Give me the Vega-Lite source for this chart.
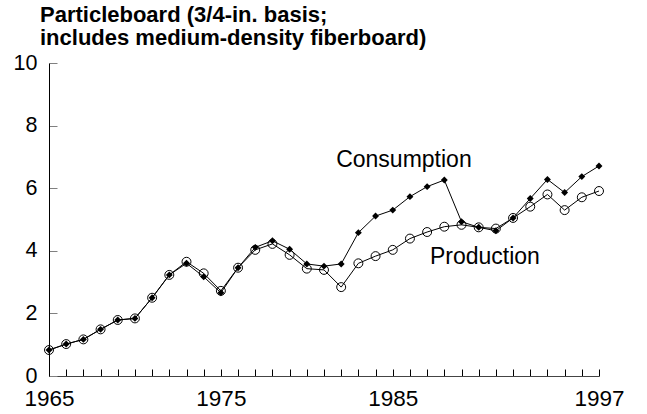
{
  "$schema": "https://vega.github.io/schema/vega-lite/v6.json",
  "width": 550,
  "height": 313,
  "autosize": {"type": "none"},
  "padding": {"left": 49, "top": 63, "right": 48, "bottom": 38},
  "background": "white",
  "config": {
    "view": {"stroke": null},
    "font": "Liberation Sans"
  },
  "title": {
    "text": ["Particleboard (3/4-in. basis;", "includes medium-density fiberboard)"],
    "anchor": "start",
    "frame": "group",
    "dx": -9,
    "offset": 2,
    "font": "Liberation Sans",
    "fontSize": 22,
    "fontWeight": "bold",
    "lineHeight": 23.5,
    "color": "black"
  },
  "datasets": {
    "series": [
      {"year": 1965, "value": 0.83, "series": "Consumption"},
      {"year": 1966, "value": 1.02, "series": "Consumption"},
      {"year": 1967, "value": 1.17, "series": "Consumption"},
      {"year": 1968, "value": 1.49, "series": "Consumption"},
      {"year": 1969, "value": 1.79, "series": "Consumption"},
      {"year": 1970, "value": 1.84, "series": "Consumption"},
      {"year": 1971, "value": 2.50, "series": "Consumption"},
      {"year": 1972, "value": 3.23, "series": "Consumption"},
      {"year": 1973, "value": 3.60, "series": "Consumption"},
      {"year": 1974, "value": 3.17, "series": "Consumption"},
      {"year": 1975, "value": 2.66, "series": "Consumption"},
      {"year": 1976, "value": 3.46, "series": "Consumption"},
      {"year": 1977, "value": 4.11, "series": "Consumption"},
      {"year": 1978, "value": 4.32, "series": "Consumption"},
      {"year": 1979, "value": 4.05, "series": "Consumption"},
      {"year": 1980, "value": 3.58, "series": "Consumption"},
      {"year": 1981, "value": 3.51, "series": "Consumption"},
      {"year": 1982, "value": 3.58, "series": "Consumption"},
      {"year": 1983, "value": 4.58, "series": "Consumption"},
      {"year": 1984, "value": 5.11, "series": "Consumption"},
      {"year": 1985, "value": 5.30, "series": "Consumption"},
      {"year": 1986, "value": 5.73, "series": "Consumption"},
      {"year": 1987, "value": 6.05, "series": "Consumption"},
      {"year": 1988, "value": 6.26, "series": "Consumption"},
      {"year": 1989, "value": 4.93, "series": "Consumption"},
      {"year": 1990, "value": 4.75, "series": "Consumption"},
      {"year": 1991, "value": 4.64, "series": "Consumption"},
      {"year": 1992, "value": 5.05, "series": "Consumption"},
      {"year": 1993, "value": 5.67, "series": "Consumption"},
      {"year": 1994, "value": 6.28, "series": "Consumption"},
      {"year": 1995, "value": 5.86, "series": "Consumption"},
      {"year": 1996, "value": 6.37, "series": "Consumption"},
      {"year": 1997, "value": 6.71, "series": "Consumption"},
      {"year": 1965, "value": 0.83, "series": "Production"},
      {"year": 1966, "value": 1.02, "series": "Production"},
      {"year": 1967, "value": 1.17, "series": "Production"},
      {"year": 1968, "value": 1.49, "series": "Production"},
      {"year": 1969, "value": 1.79, "series": "Production"},
      {"year": 1970, "value": 1.84, "series": "Production"},
      {"year": 1971, "value": 2.50, "series": "Production"},
      {"year": 1972, "value": 3.23, "series": "Production"},
      {"year": 1973, "value": 3.65, "series": "Production"},
      {"year": 1974, "value": 3.28, "series": "Production"},
      {"year": 1975, "value": 2.72, "series": "Production"},
      {"year": 1976, "value": 3.46, "series": "Production"},
      {"year": 1977, "value": 4.03, "series": "Production"},
      {"year": 1978, "value": 4.22, "series": "Production"},
      {"year": 1979, "value": 3.87, "series": "Production"},
      {"year": 1980, "value": 3.43, "series": "Production"},
      {"year": 1981, "value": 3.39, "series": "Production"},
      {"year": 1982, "value": 2.84, "series": "Production"},
      {"year": 1983, "value": 3.60, "series": "Production"},
      {"year": 1984, "value": 3.83, "series": "Production"},
      {"year": 1985, "value": 4.03, "series": "Production"},
      {"year": 1986, "value": 4.39, "series": "Production"},
      {"year": 1987, "value": 4.60, "series": "Production"},
      {"year": 1988, "value": 4.77, "series": "Production"},
      {"year": 1989, "value": 4.83, "series": "Production"},
      {"year": 1990, "value": 4.75, "series": "Production"},
      {"year": 1991, "value": 4.71, "series": "Production"},
      {"year": 1992, "value": 5.05, "series": "Production"},
      {"year": 1993, "value": 5.41, "series": "Production"},
      {"year": 1994, "value": 5.80, "series": "Production"},
      {"year": 1995, "value": 5.30, "series": "Production"},
      {"year": 1996, "value": 5.71, "series": "Production"},
      {"year": 1997, "value": 5.91, "series": "Production"}
    ],
    "labels": [
      {"year": 1985.65, "value": 6.9, "text": "Consumption"},
      {"year": 1990.36, "value": 3.8, "text": "Production"}
    ]
  },
  "encoding": {
    "x": {
      "field": "year",
      "type": "quantitative",
      "scale": {"domain": [1965, 1997], "nice": false, "zero": false},
      "axis": {
        "title": null,
        "grid": false,
        "values": [1965,1966,1967,1968,1969,1970,1971,1972,1973,1974,1975,1976,1977,1978,1979,1980,1981,1982,1983,1984,1985,1986,1987,1988,1989,1990,1991,1992,1993,1994,1995,1996,1997],
        "labelExpr": "indexof([1965,1975,1985,1997], datum.value) >= 0 ? '' + datum.value : ''",
        "labelOverlap": false,
        "labelFlush": false,
        "tickSize": -7,
        "tickColor": "black",
        "domainColor": "#444444",
        "labelPadding": 18,
        "labelFontSize": 22.5,
        "labelFont": "Liberation Sans",
        "labelColor": "black"
      }
    },
    "y": {
      "field": "value",
      "type": "quantitative",
      "scale": {"domain": [0, 10], "nice": false},
      "axis": {
        "title": null,
        "grid": false,
        "values": [0, 2, 4, 6, 8, 10],
        "tickSize": -8,
        "tickColor": "#808080",
        "domainColor": "black",
        "labelPadding": 20,
        "labelFontSize": 21.5,
        "labelFont": "Liberation Sans",
        "labelColor": "black"
      }
    }
  },
  "layer": [
    {
      "data": {"name": "series"},
      "mark": {"type": "line", "color": "black", "strokeWidth": 1},
      "encoding": {"detail": {"field": "series"}}
    },
    {
      "data": {"name": "series"},
      "transform": [{"filter": "datum.series === 'Consumption'"}],
      "mark": {"type": "point", "shape": "diamond", "filled": true, "color": "black", "size": 48, "opacity": 1}
    },
    {
      "data": {"name": "series"},
      "transform": [{"filter": "datum.series === 'Production'"}],
      "mark": {"type": "point", "shape": "circle", "filled": false, "color": "black", "size": 80, "strokeWidth": 1, "opacity": 1}
    },
    {
      "data": {"name": "labels"},
      "mark": {"type": "text", "align": "center", "baseline": "middle", "fontSize": 23, "font": "Liberation Sans", "color": "black"},
      "encoding": {"text": {"field": "text"}}
    }
  ]
}
